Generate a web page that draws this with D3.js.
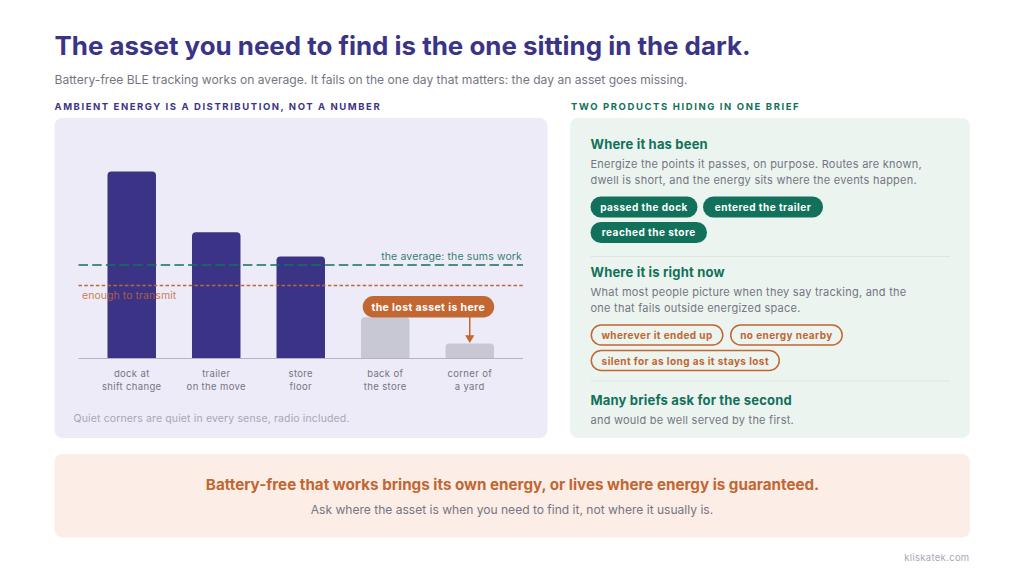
<!DOCTYPE html>
<html><head><meta charset="utf-8">
<script src="https://cdn.jsdelivr.net/npm/d3@7"></script>
<style>html,body{margin:0;padding:0;background:#fff}svg{display:block;font-family:Inter,sans-serif}</style>
</head><body><svg id="c" width="1024" height="576"></svg>
<script>
const categories=[["dock at","shift change"],["trailer","on the move"],["store","floor"],["back of","the store"],["corner of","a yard"]];
const energy=[100,67.5,54.5,22,8];
const barGroup=["ok","ok","ok","low","low"];
const averageLevel=50;
const transmitLevel=39;
const purple="#3b3486",green="#12715a",orange="#c26632",grey="#767583";
const svg=d3.select("#c");
const x=d3.scaleBand().domain(d3.range(5)).range([78.5,523]).paddingInner(0.426).paddingOuter(0.343);
const y=d3.scaleLinear().domain([0,100]).range([358.5,171.5]);
function T(s,px,py,size,weight,fill,opt={}){
  const t=svg.append("text").attr("x",px).attr("y",py).attr("font-size",size).attr("font-weight",weight).attr("fill",fill).text(s);
  if(opt.ls)t.attr("letter-spacing",opt.ls);
  if(opt.anchor)t.attr("text-anchor",opt.anchor);
  if(opt.op)t.attr("fill-opacity",opt.op);
  return t;
}
function R(px,py,w,h,r,fill){return svg.append("rect").attr("x",px).attr("y",py).attr("width",w).attr("height",h).attr("rx",r).attr("fill",fill);}
T("The asset you need to find is the one sitting in the dark.",54.5,55,25.9,700,purple);
T("Battery-free BLE tracking works on average. It fails on the one day that matters: the day an asset goes missing.",54.5,84,12.1,400,grey);
T("AMBIENT ENERGY IS A DISTRIBUTION, NOT A NUMBER",54.5,110,9.5,700,purple,{ls:1.57});
T("TWO PRODUCTS HIDING IN ONE BRIEF",571,110,9.5,700,green,{ls:1.6});
R(54.5,118,493,320,8,"#edebf7");
R(570,118,400,320,8,"#ebf4ef");
R(54.5,454,915.5,83.5,8,"#fceee7");
// bars
svg.append("g").selectAll("path").data(energy).join("path")
 .attr("d",(v,i)=>{const a=x(i),w=x.bandwidth(),t=y(v),b=y(0),r=4;
   return `M${a},${b-1}V${t+r}Q${a},${t} ${a+r},${t}H${a+w-r}Q${a+w},${t} ${a+w},${t+r}V${b-1}Q${a+w},${b} ${a+w-1},${b}H${a+1}Q${a},${b} ${a},${b-1}Z`;})
 .attr("fill",(v,i)=>barGroup[i]==="ok"?purple:"#c8c8d4");
svg.append("line").attr("x1",78.5).attr("x2",523).attr("y1",y(0)).attr("y2",y(0)).attr("stroke","#b4b3c2").attr("stroke-width",1.2);
svg.append("line").attr("x1",78.5).attr("x2",523).attr("y1",y(averageLevel)).attr("y2",y(averageLevel)).attr("stroke",green).attr("stroke-width",1.6).attr("stroke-dasharray","9.5 4.2");
svg.append("line").attr("x1",78.5).attr("x2",523).attr("y1",y(transmitLevel)).attr("y2",y(transmitLevel)).attr("stroke",orange).attr("stroke-width",1.4).attr("stroke-dasharray","3.5 2.3");
T("the average: the sums work",522,259.5,10.5,400,green,{anchor:"end",ls:0.13,op:0.9});
T("enough to transmit",82,298.5,10.5,400,orange,{ls:0.06,op:0.85});
categories.forEach((c,i)=>{
  c.forEach((s,j)=>T(s,x(i)+x.bandwidth()/2,376.5+j*13,9.5,400,grey,{anchor:"middle",ls:0.35}));
});
R(362.7,296,131.5,21.5,10.75,orange);
T("the lost asset is here",428.3,310.5,10.5,700,"#fff",{anchor:"middle",ls:0.38});
const ax=x(4)+x.bandwidth()/2;
svg.append("line").attr("x1",ax).attr("x2",ax).attr("y1",317).attr("y2",337).attr("stroke",orange).attr("stroke-width",1.5);
svg.append("path").attr("d",`M${ax-4.6},335.2H${ax+4.6}L${ax},343Z`).attr("fill",orange);
T("Quiet corners are quiet in every sense, radio included.",73.5,421.5,10.5,400,"#a8a7b5",{ls:0.14});
// right
const tx=590.5;
const hls=0.18, bls=0.24;
T("Where it has been",tx,149.3,13,700,green,{ls:hls});
T("Energize the points it passes, on purpose. Routes are known,",tx,168,11,400,grey,{ls:bls});
T("dwell is short, and the energy sits where the events happen.",tx,183.5,11,400,grey,{ls:bls});
function pill(s,px,py,w,solid){
  const h=solid?21:20;
  const r=svg.append("rect").attr("x",px).attr("y",py).attr("width",w).attr("height",h).attr("rx",h/2);
  if(solid)r.attr("fill",green);else r.attr("fill","none").attr("stroke",orange).attr("stroke-width",1.5);
  T(s,px+w/2,py+14.3,10,700,solid?"#fff":orange,{anchor:"middle",ls:solid?0.48:0.42});
}
pill("passed the dock",590.5,196.5,107,true);
pill("entered the trailer",703,196.5,120,true);
pill("reached the store",590.5,222,116.5,true);
svg.append("line").attr("x1",590.5).attr("x2",950).attr("y1",256.5).attr("y2",256.5).attr("stroke","#dce6e1");
T("Where it is right now",tx,277.3,13,700,green,{ls:hls});
T("What most people picture when they say tracking, and the",tx,296,11,400,grey,{ls:bls});
T("one that fails outside energized space.",tx,311.5,11,400,grey,{ls:bls});
pill("wherever it ended up",591.3,325,131.5,false);
pill("no energy nearby",730.7,325,111.5,false);
pill("silent for as long as it stays lost",591.3,350.5,188,false);
svg.append("line").attr("x1",590.5).attr("x2",950).attr("y1",381).attr("y2",381).attr("stroke","#dce6e1");
T("Many briefs ask for the second",tx,405.3,13,700,green,{ls:hls});
T("and would be well served by the first.",tx,424,11,400,grey,{ls:bls});
T("Battery-free that works brings its own energy, or lives where energy is guaranteed.",512.5,490.3,15.2,700,orange,{anchor:"middle"});
T("Ask where the asset is when you need to find it, not where it usually is.",512,513.5,12.06,400,grey,{anchor:"middle"});
T("kliskatek.com",969.5,560.5,9.5,400,"#a8a7b5",{anchor:"end",ls:0.3});
</script></body></html>
